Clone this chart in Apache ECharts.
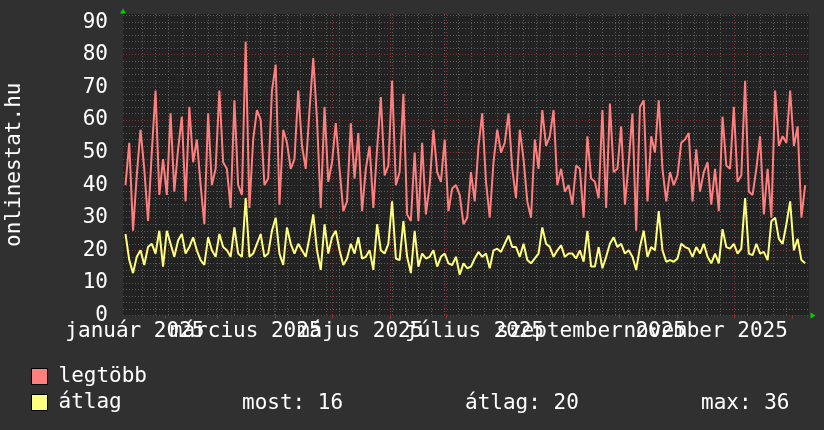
<!DOCTYPE html>
<html><head><meta charset="utf-8">
<script src="https://cdn.jsdelivr.net/npm/echarts@6/dist/echarts.min.js"></script>
<style>html,body{margin:0;padding:0;background:#303030}#c{width:824px;height:430px}</style>
</head><body><div id="c"></div>
<script>
const DAY = 86400000;
const FONT = '"DejaVu Sans Mono", monospace';
const seriesNames = ['legtöbb', 'átlag'];

// daily max ("legtöbb"), one value every 2 days
const legtobb = [
40,53,26,43,57,45,29,50,69,37,48,37,62,38,51,61,35,64,47,54,40,28,62,40,45,69,47,45,33,66,40,37,84,33,54,63,60,40,42,69,77,34,57,53,45,48,
69,52,45,63,79,60,33,64,41,47,59,45,32,35,59,42,56,32,45,52,33,51,67,43,46,72,40,44,68,31,29,50,29,53,31,40,57,44,41,54,32,39,40,37,28,
30,44,35,52,62,41,30,47,57,50,53,62,45,36,57,48,35,30,54,45,63,52,55,63,40,45,38,40,34,46,45,30,55,42,41,36,63,33,65,44,45,58,34,47,62,26,
64,66,35,55,50,66,45,35,44,40,43,53,54,56,35,51,38,44,47,34,45,32,61,46,45,64,41,43,72,38,37,45,55,31,45,30,69,52,55,53,69,52,58,30,40
];
// average ("átlag")
const atlag = [
25,17,13,18,20,15.5,21,22,19,26,15,26,22,18,23,25,19,21,24,20,17,15.5,24,20,18,25,21,20,18,27,19,18,36,18,19,22,25,18,19,26,30,19,15.5,27,22,19,
22,20,18,24,31,20,14,28,19,24,26,20,15.5,17.5,22,19,24,17.5,18,20,14,28,20,19,22,35,17.5,17,29,18,13,26,15,19,17.5,18,20,15,18,19,16,15.5,18,12.5,16,
14.5,15,17.5,19.5,18,19,14.5,20,20.5,19.5,22,24.5,21,21,18,22,17,16,17.5,19,27,22,21,18,20,21.5,18,19,19,17.5,20,16.5,26,15,15,21,14.5,18,22,24,21,22,19,20,18,14,
21,26,18,21,20,32,20,16.5,17,16.5,17.5,22,21,20.5,18,21,19,22,18,16,19,16,26.5,21,20.5,22,19,20.5,36,19,18.5,22,19,19.5,17,29,30,23.5,22,28,35,20,23.5,17,16
];

const firstDay = Date.UTC(2025, 0, 11);
const stepDays = 2;
const dates = legtobb.map((_, i) => firstDay + i * stepDays * DAY);

const xMin = Date.UTC(2025, 0, 9, 16);
const xMax = Date.UTC(2026, 0, 10, 1);

const monthStarts = [
  Date.UTC(2025,1,1), Date.UTC(2025,2,1), Date.UTC(2025,3,1), Date.UTC(2025,4,1),
  Date.UTC(2025,5,1), Date.UTC(2025,6,1), Date.UTC(2025,7,1), Date.UTC(2025,8,1),
  Date.UTC(2025,9,1), Date.UTC(2025,10,1), Date.UTC(2025,11,1), Date.UTC(2026,0,1)
];
const labelMonths = [
  Date.UTC(2025,0,1), Date.UTC(2025,2,1), Date.UTC(2025,4,1),
  Date.UTC(2025,6,1), Date.UTC(2025,8,1), Date.UTC(2025,10,1)
];
const labelShiftDays = 15;
const labelTicks = labelMonths.map(t => t + labelShiftDays * DAY);
// labels overlap in the original; spread over two label rows (same position) so none is dropped
const labelTicksA = labelTicks.filter((_, i) => i % 2 === 0);
const labelTicksB = labelTicks.filter((_, i) => i % 2 === 1);
const firstMonday = Date.UTC(2025, 0, 13);
const mondays = [];
for (let t = firstMonday; t < xMax; t += 7 * DAY) mondays.push(t);

const yTicks = [0,10,20,30,40,50,60,70,80,90];
const monthNames = ['január','február','március','április','május','június','július','augusztus','szeptember','október','november','december'];

const most = Math.round(atlag[atlag.length - 1]);
const avg = Math.round(atlag.reduce((a, b) => a + b, 0) / atlag.length);
const mx = Math.round(Math.max.apply(null, atlag));

const GRAY = '#5c5c5c';
const RED = '#8a3434';
const ARROW = '#00d000';

const monthLabel = v => { const d = new Date(v); return monthNames[d.getUTCMonth()] + ' ' + d.getUTCFullYear(); };
const labelBase = {showMinLabel: true, showMaxLabel: true, hideOverlap: false, interval: 0,
  color: '#fff', fontFamily: FONT, fontSize: 21, margin: 6, formatter: monthLabel};

const chart = echarts.init(document.getElementById('c'), null, {renderer: 'canvas'});
chart.setOption({
  backgroundColor: '#303030',
  animation: false,
  grid: {left: 123, top: 14, width: 686, height: 301.5, show: true, backgroundColor: '#222222', borderWidth: 0, outerBoundsMode: 'none', containLabel: false},
  legend: {
    orient: 'vertical', left: 31, top: 366, padding: 0, itemWidth: 16, itemHeight: 16, itemGap: 5,
    icon: 'rect', selectedMode: false, data: seriesNames,
    itemStyle: {borderColor: '#000', borderWidth: 1},
    textStyle: {color: '#fff', fontFamily: FONT, fontSize: 21, padding: [0, 0, 0, 6]}
  },
  xAxis: [
    {
      type: 'value', position: 'bottom', min: xMin, max: xMax,
      axisLabel: {show: false},
      axisTick: {show: false, customValues: mondays},
      splitLine: {show: true, showMinLine: false, showMaxLine: false, lineStyle: {color: GRAY, type: [1, 2], width: 1}},
      axisLine: {show: true, symbol: ['none', 'triangle'], symbolSize: [6, 5], symbolOffset: [0, 4], lineStyle: {color: ARROW, opacity: 0}}
    },
    {
      type: 'value', position: 'bottom', min: xMin, max: xMax,
      axisLine: {show: false},
      axisTick: {show: true, customValues: monthStarts, length: 3, lineStyle: {color: '#a03030'}},
      splitLine: {show: true, showMinLine: false, showMaxLine: false, lineStyle: {color: RED, type: [1, 2], width: 1}},
      axisLabel: Object.assign({customValues: labelTicksA}, labelBase)
    },
    {
      type: 'value', position: 'bottom', min: xMin, max: xMax,
      axisLine: {show: false}, axisTick: {show: false}, splitLine: {show: false},
      axisLabel: Object.assign({customValues: labelTicksB}, labelBase)
    }
  ],
  yAxis: [
    {
      type: 'value', position: 'left', min: 0, max: 92.5, interval: 2,
      axisLabel: {show: false}, axisTick: {show: false},
      splitLine: {show: true, showMinLine: false, showMaxLine: false, lineStyle: {color: GRAY, type: [1, 2], width: 1}},
      axisLine: {show: true, symbol: ['none', 'triangle'], symbolSize: [6, 5], symbolOffset: [0, 3], lineStyle: {color: ARROW, opacity: 0}}
    },
    {
      type: 'value', position: 'left', min: 0, max: 92.5, interval: 10,
      axisLine: {show: false},
      axisTick: {show: false, customValues: yTicks},
      splitLine: {show: true, showMaxLine: false, lineStyle: {color: RED, type: [1, 2], width: 1}},
      axisLabel: {customValues: yTicks, showMinLabel: true, showMaxLabel: true, hideOverlap: false, color: '#fff', fontFamily: FONT, fontSize: 21, margin: 15},
      name: 'onlinestat.hu', nameLocation: 'middle', nameGap: 98, nameRotate: 90,
      nameTextStyle: {color: '#fff', fontFamily: FONT, fontSize: 21}
    }
  ],
  series: [
    {
      name: seriesNames[0], type: 'line', xAxisIndex: 1, yAxisIndex: 1, silent: true,
      data: dates.map((d, i) => [d, legtobb[i]]), showSymbol: false, symbol: 'none',
      lineStyle: {color: '#ff7f7f', width: 2}, itemStyle: {color: '#ff7f7f'}
    },
    {
      name: seriesNames[1], type: 'line', xAxisIndex: 1, yAxisIndex: 1, silent: true,
      data: dates.map((d, i) => [d, atlag[i]]), showSymbol: false, symbol: 'none',
      lineStyle: {color: '#ffff7f', width: 2}, itemStyle: {color: '#ffff7f'}
    }
  ],
  graphic: [
    {type: 'text', left: 242, top: 393, style: {text: 'most: ' + most, fill: '#fff', font: '21px ' + FONT}},
    {type: 'text', left: 465, top: 393, style: {text: 'átlag: ' + avg, fill: '#fff', font: '21px ' + FONT}},
    {type: 'text', left: 701, top: 393, style: {text: 'max: ' + mx, fill: '#fff', font: '21px ' + FONT}}
  ]
});
</script></body></html>
